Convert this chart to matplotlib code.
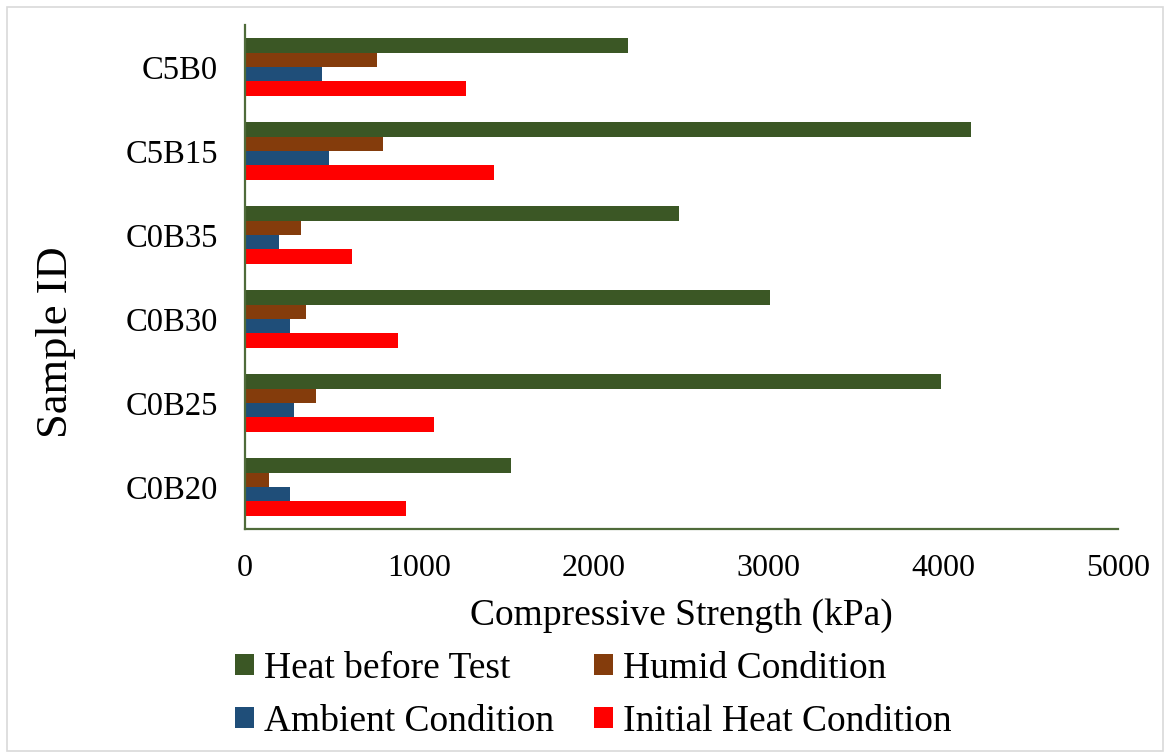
import matplotlib
matplotlib.use("Agg")
import matplotlib.pyplot as plt
import numpy as np
from matplotlib.patches import Rectangle

categories = ["C0B20", "C0B25", "C0B30", "C0B35", "C5B15", "C5B0"]
initial_heat = [925, 1084, 879, 616, 1427, 1270]
ambient = [259, 285, 259, 198, 486, 442]
humid = [140, 408, 350, 325, 791, 757]
heat_before = [1525, 3987, 3010, 2489, 4159, 2195]
xticks = [0, 1000, 2000, 3000, 4000, 5000]

plt.rcParams['font.family'] = ['Liberation Serif', 'DejaVu Serif']

fig = plt.figure(figsize=(11.65, 7.53), dpi=100)
ax = fig.add_axes([244.5/1165, 1-529/753, (1117.7-244.5)/1165, (529-25)/753])

y = np.arange(len(categories))
h = 0.1726
series = [
    ("Initial Heat Condition", initial_heat, "#FF0000", -1.5),
    ("Ambient Condition", ambient, "#1F4E79", -0.5),
    ("Humid Condition", humid, "#843C0C", 0.5),
    ("Heat before Test", heat_before, "#3B5725", 1.5),
]
handles = {}
for name, vals, col, off in series:
    b = ax.barh(y + off*h, vals, height=h, color=col, label=name)
    handles[name] = b

ax.set_xlim(0, 5000)
ax.set_ylim(-0.5, 5.5)
ax.set_yticks(y)
ax.set_yticklabels(categories, fontsize=23.5)
ax.set_xticks(xticks)
ax.set_xticklabels([str(v) for v in xticks], fontsize=23)
ax.tick_params(axis='both', length=0)
ax.tick_params(axis='x', pad=18)
ax.tick_params(axis='y', pad=19)
for s in ['top', 'right']:
    ax.spines[s].set_visible(False)
for s in ['left', 'bottom']:
    ax.spines[s].set_color('#4f6b3a')
    ax.spines[s].set_linewidth(1.6)

ax.set_xlabel("Compressive Strength (kPa)", fontsize=27, labelpad=11)
fig.text(56/1165, 1-342/753, "Sample ID", fontsize=32, rotation=90,
         ha='center', va='center')

order = ["Heat before Test", "Ambient Condition", "Humid Condition", "Initial Heat Condition"]
fig.legend([handles[n] for n in order], order, ncol=2, loc='center left',
           bbox_to_anchor=(220/1165, 1-695/753), frameon=False, fontsize=27,
           handlelength=0.5, handleheight=0.5, handletextpad=0.28,
           columnspacing=1.05, labelspacing=0.5, borderaxespad=0)

fig.patches.append(Rectangle((7/1165, 2/753), (1163-7)/1165, (751-7)/753,
                             transform=fig.transFigure, fill=False,
                             edgecolor='#d9d9d9', linewidth=1.2))

fig.savefig("out.png", dpi=100)
